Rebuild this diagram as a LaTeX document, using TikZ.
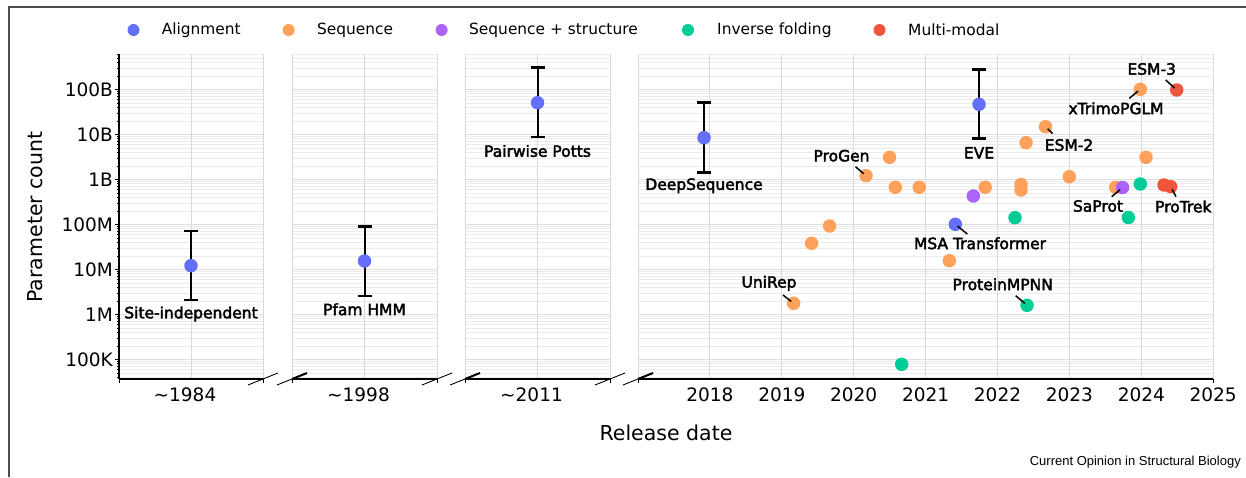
\documentclass[tikz,border=0pt]{standalone}
\usepackage{fontspec}
\setmainfont{DejaVu Sans}
\newfontfamily\notefont[FakeBold=2.5]{DejaVu Sans}
\newfontfamily\creditfont{Liberation Sans}
\definecolor{alignc}{HTML}{636EFA}
\definecolor{seqc}{HTML}{FFA15A}
\definecolor{seqstrc}{HTML}{AB63FA}
\definecolor{invc}{HTML}{00CC96}
\definecolor{multic}{HTML}{EF553B}

\begin{document}
\begin{tikzpicture}[x=1pt,y=-1pt,
     dot/.style={circle,inner sep=0pt,minimum size=13.5pt},
     keydot/.style={circle,inner sep=0pt,minimum size=12pt},
     keytext/.style={anchor=west,inner sep=0pt,font=\fontsize{15.4}{18}\selectfont},
     ann/.style={inner sep=0pt,font=\notefont\fontsize{15.5}{18}\selectfont},
     leader/.style={line width=1.5pt,shorten >=3pt},
     errbar/.style={line width=2pt},
     errcap/.style={line width=2.5pt},
     majorgrid/.style={draw=black!13,line width=1.4pt},
     minorgrid/.style={draw=black!8,line width=0.8pt},
     vgrid/.style={draw=black!15,line width=1pt},
     axisline/.style={line width=1.3pt},
     breakmark/.style={line width=0.9pt},
     ticklabel/.style={inner sep=0pt,font=\fontsize{18.5}{22}\selectfont},
     axistitle/.style={inner sep=0pt,font=\fontsize{20.5}{24}\selectfont}]

     \useasboundingbox (0,0) rectangle (1246,477);
     % outer frame
     \draw[black!70,line width=1.8pt] (1246,7) -- (9,7) -- (9,477);

     % legend
     \node[keydot,fill=alignc] (keyAlign) at (133.5,30) {};
     \node[keytext] (keyAlignText) at (161.6,30) {Alignment};
     \node[keydot,fill=seqc] (keySeq) at (288.6,30) {};
     \node[keytext] (keySeqText) at (317,30) {Sequence};
     \node[keydot,fill=seqstrc] (keySeqStr) at (441.6,30) {};
     \node[keytext] (keySeqStrText) at (469,30) {Sequence + structure};
     \node[keydot,fill=invc] (keyInv) at (688,30) {};
     \node[keytext] (keyInvText) at (717,30) {Inverse folding};
     \node[keydot,fill=multic] (keyMulti) at (879.5,30) {};
     \node[keytext] (keyMultiText) at (908,30) {Multi-modal};

     % grids of the four panels
     \foreach \a/\b in {119/263,292/437,465/610,638/1213}{
       \begin{scope}
         \clip (\a,54) rectangle (\b,379);
         \foreach \e in {4,...,11}{
           \foreach \m in {2,...,9}
             \draw[minorgrid] (\a,{89.5+(11-\e-log10(\m))*45}) -- (\b,{89.5+(11-\e-log10(\m))*45});
           \draw[majorgrid] (\a,{89.5+(11-\e)*45}) -- (\b,{89.5+(11-\e)*45});
         }
       \end{scope}
     }
     \foreach \x in {119,191,263,292,364.5,437,465,537.5,610}
       \draw[vgrid] (\x,54) -- (\x,379);
     \foreach \k in {0,...,8}
       \draw[vgrid] ({638+\k*71.9},54) -- ({638+\k*71.9},379);

     % y axis
     \draw[axisline] (119,54) -- (119,379);
     \begin{scope}
       \clip (100,54) rectangle (120,379);
       \foreach \e in {4,...,11}{
         \draw[axisline] (119,{89.5+(11-\e)*45}) -- (115,{89.5+(11-\e)*45});
         \foreach \m in {2,...,9}
           \draw[line width=0.8pt] (119,{89.5+(11-\e-log10(\m))*45}) -- (117,{89.5+(11-\e-log10(\m))*45});
       }
     \end{scope}
     \node[ticklabel,anchor=east] (y100K) at (113,359.5) {100K};
     \node[ticklabel,anchor=east] (y1M) at (113,314.5) {1M};
     \node[ticklabel,anchor=east] (y10M) at (113,269.5) {10M};
     \node[ticklabel,anchor=east] (y100M) at (113,224.5) {100M};
     \node[ticklabel,anchor=east] (y1B) at (113,179.5) {1B};
     \node[ticklabel,anchor=east] (y10B) at (113,134.5) {10B};
     \node[ticklabel,anchor=east] (y100B) at (113,89.5) {100B};

     % x axes with breaks
     \foreach \a/\b in {119/263,292/437,465/610,638/1213}{
       \draw[axisline] (\a,379) -- (\b,379);
       \draw[line width=0.8pt] (\a,379) -- (\a,383) (\b,379) -- (\b,383);
     }
     \foreach \x in {263,437,610}
       \draw[breakmark] (\x-15,385) -- (\x+15,373);
     \foreach \x in {292,465,638}{
       \draw[breakmark] (\x-15,385) -- (\x+15,373);
       \draw[line width=2pt] (\x,379) -- (\x+15,373);
     }
     \node[ticklabel] (x1984) at (185,395) {\textasciitilde1984};
     \node[ticklabel] (x1998) at (358.5,395) {\textasciitilde1998};
     \node[ticklabel] (x2011) at (531.5,395) {\textasciitilde2011};
     \foreach \k/\yr in {1/2018,2/2019,3/2020,4/2021,5/2022,6/2023,7/2024,8/2025}
       \node[ticklabel] (x\yr) at ({638+\k*71.9},395) {\yr};

     \node[axistitle,rotate=90] (ytitle) at (35,217) {Parameter count};
     \node[axistitle] (xtitle) at (666,433) {Release date};

     % error bars
     \foreach \nm/\x/\t/\b in {SiteIndep/191/231/300,PfamHMM/364.5/226.3/296,Potts/537.5/67.7/137,DeepSeq/704/102.7/172.7,EVE/979/69.3/138.3}{
       \coordinate (\nm Top) at (\x,\t);
       \coordinate (\nm Bot) at (\x,\b);
       \draw[errbar] (\nm Top) -- (\nm Bot);
       \draw[errcap] (\nm Top) ++(-7,0) -- ++(14,0);
       \draw[errcap] (\nm Bot) ++(-7,0) -- ++(14,0);
     }

     % alignment
     \node[dot,fill=alignc] (SiteIndep) at (191,265.7) {};
     \node[dot,fill=alignc] (PfamHMM) at (364.5,261) {};
     \node[dot,fill=alignc] (Potts) at (537.5,102.7) {};
     \node[dot,fill=alignc] (DeepSeq) at (704,137.7) {};
     \node[dot,fill=alignc] (EVE) at (979,104.3) {};
     \node[dot,fill=alignc] (MSATrans) at (955.3,224.3) {};
     % sequence
     \node[dot,fill=seqc] (UniRep) at (793.6,303.3) {};
     \node[dot,fill=seqc] (seqA) at (811.6,243.3) {};
     \node[dot,fill=seqc] (seqB) at (829.6,226) {};
     \node[dot,fill=seqc] (ProGen) at (866,175.7) {};
     \node[dot,fill=seqc] (seqC) at (889.5,157.3) {};
     \node[dot,fill=seqc] (seqD) at (895.3,187.3) {};
     \node[dot,fill=seqc] (seqE) at (919.2,187.3) {};
     \node[dot,fill=seqc] (seqF) at (949.3,260.7) {};
     \node[dot,fill=seqc] (seqG) at (985.2,187.3) {};
     \node[dot,fill=seqc] (seqH) at (1021,184.5) {};
     \node[dot,fill=seqc] (seqI) at (1021,190) {};
     \node[dot,fill=seqc] (seqJ) at (1026,142.7) {};
     \node[dot,fill=seqc] (ESM2) at (1045.5,126.7) {};
     \node[dot,fill=seqc] (seqK) at (1069.3,176.7) {};
     \node[dot,fill=seqc] (seqL) at (1115.7,187.3) {};
     \node[dot,fill=seqc] (seqM) at (1146,157.3) {};
     \node[dot,fill=seqc] (xTrimo) at (1140.3,89.3) {};
     % sequence + structure
     \node[dot,fill=seqstrc] (strA) at (973.3,196) {};
     \node[dot,fill=seqstrc] (SaProt) at (1122.5,187.5) {};
     % inverse folding
     \node[dot,fill=invc] (invA) at (901.7,364.3) {};
     \node[dot,fill=invc] (invB) at (1015,217.7) {};
     \node[dot,fill=invc] (ProteinMPNN) at (1027,305.3) {};
     \node[dot,fill=invc] (invC) at (1128.3,217.5) {};
     \node[dot,fill=invc] (invD) at (1140.3,184) {};
     % multi-modal
     \node[dot,fill=multic] (multiA) at (1164,185) {};
     \node[dot,fill=multic] (ProTrek) at (1170.7,186.7) {};
     \node[dot,fill=multic] (ESM3) at (1176.7,90) {};

     % labels
     \node[ann] (SiteIndepLabel) at (191,314) {Site-independent};
     \node[ann] (PfamHMMLabel) at (364.5,309.3) {Pfam HMM};
     \node[ann] (PottsLabel) at (537.5,151) {Pairwise Potts};
     \node[ann] (DeepSeqLabel) at (704,185.7) {DeepSequence};
     \node[ann] (EVELabel) at (979,152.7) {EVE};
     \node[ann] (ProGenLabel) at (841.5,155.7) {ProGen};
     \node[ann] (UniRepLabel) at (769,283.3) {UniRep};
     \node[ann] (MSATransLabel) at (980,243.3) {MSA Transformer};
     \node[ann] (ProteinMPNNLabel) at (1002.7,284.3) {ProteinMPNN};
     \node[ann] (ESM2Label) at (1069,145) {ESM-2};
     \node[ann] (xTrimoLabel) at (1116,108.3) {xTrimoPGLM};
     \node[ann] (ESM3Label) at (1151.7,69) {ESM-3};
     \node[ann] (SaProtLabel) at (1098,206) {SaProt};
     \node[ann] (ProTrekLabel) at (1183.3,206.5) {ProTrek};

     % leaders
     \coordinate (ProGenTip) at (855.5,166.7);
     \coordinate (UniRepTip) at (783,295);
     \coordinate (MSATransTip) at (967.3,234);
     \coordinate (ProteinMPNNTip) at (1015.7,295.7);
     \coordinate (ESM2Tip) at (1052.5,133.5);
     \coordinate (xTrimoTip) at (1129.3,98.3);
     \coordinate (ESM3Tip) at (1165.7,80);
     \coordinate (SaProtTip) at (1111.7,196.7);
     \coordinate (ProTrekTip) at (1176,196.7);
     \foreach \nm in {ProGen,UniRep,MSATrans,ProteinMPNN,ESM2,xTrimo,ESM3,SaProt,ProTrek}
       \draw[leader] (\nm Tip) -- (\nm.center);

     \node[anchor=east,inner sep=0pt,font=\creditfont\fontsize{13}{15}\selectfont] (credit) at (1241,462) {Current Opinion in Structural Biology};
\end{tikzpicture}
\end{document}
